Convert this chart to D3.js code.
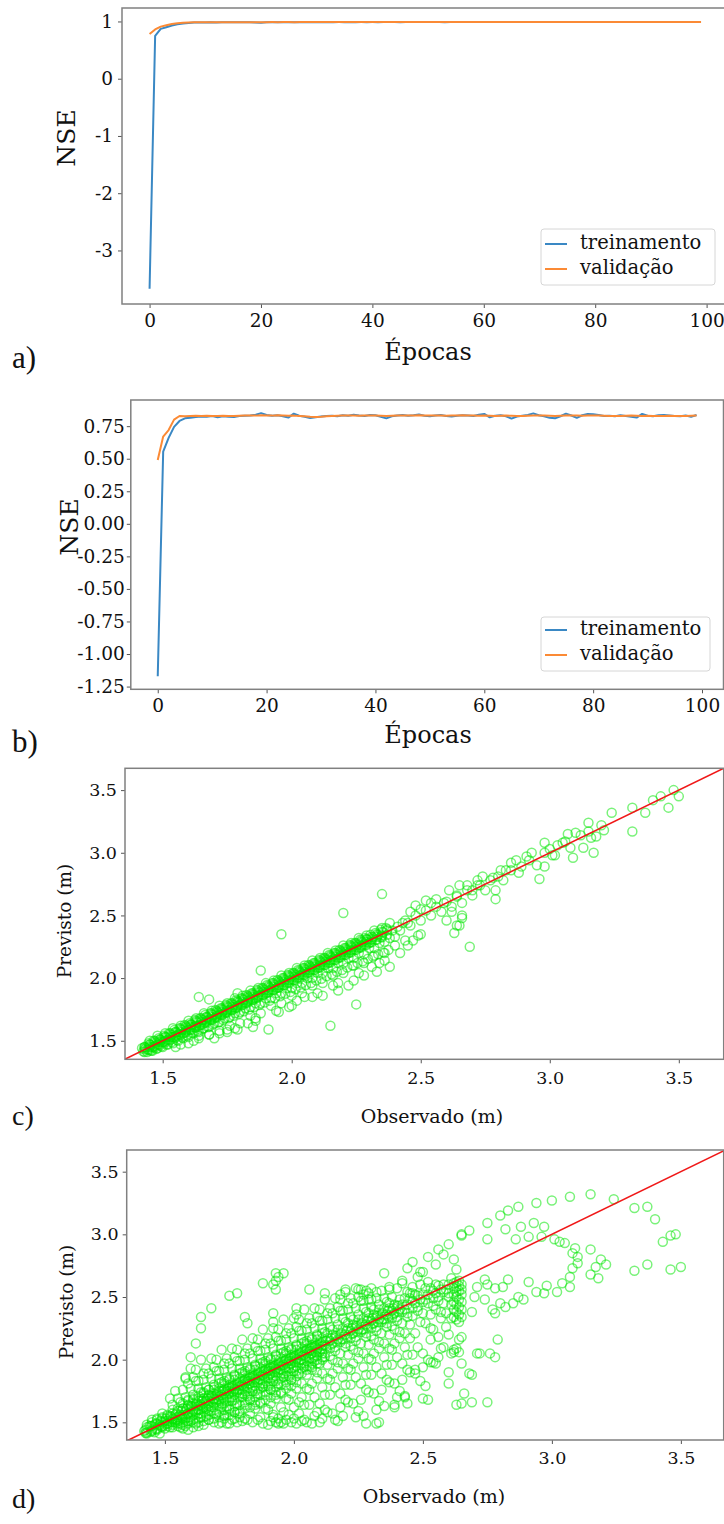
<!DOCTYPE html>
<html>
<head>
<meta charset="utf-8">
<script src="https://cdn.jsdelivr.net/npm/d3@7"></script>
<style>
  body { margin: 0; background: #fff; }
  svg { display: block; }
</style>
</head>
<body>
<svg id="fig" width="724" height="1524"></svg>
<script>
// ---- panel a / b : NSE per epoch ----
const seriesNames = ["treinamento", "validação"];

const nseTrainA = [
  -3.67, 0.75, 0.87, 0.90, 0.93, 0.95, 0.965, 0.975, 0.98, 0.982,
  0.983, 0.984, 0.982, 0.985, 0.984, 0.986, 0.985, 0.986, 0.984, 0.983,
  0.978, 0.984, 0.986, 0.987, 0.985, 0.986, 0.987, 0.986, 0.987, 0.988,
  0.987, 0.988, 0.986, 0.988, 0.989, 0.988, 0.987, 0.988, 0.989, 0.988,
  0.989, 0.988, 0.989, 0.99, 0.989, 0.988, 0.989, 0.99, 0.989, 0.99,
  0.989, 0.99, 0.989, 0.988, 0.99, 0.989, 0.99, 0.99, 0.989, 0.99,
  0.99, 0.989, 0.99, 0.99, 0.989, 0.99, 0.99, 0.99, 0.989, 0.99,
  0.99, 0.99, 0.989, 0.99, 0.99, 0.99, 0.99, 0.989, 0.99, 0.99,
  0.99, 0.99, 0.99, 0.989, 0.99, 0.99, 0.99, 0.99, 0.99, 0.989,
  0.99, 0.99, 0.99, 0.99, 0.99, 0.99, 0.989, 0.99, 0.99, 0.99
];
const nseValidA = [
  0.78, 0.86, 0.91, 0.935, 0.955, 0.97, 0.978, 0.982, 0.984, 0.985,
  0.986, 0.986, 0.987, 0.986, 0.987, 0.987, 0.988, 0.987, 0.988, 0.988,
  0.988, 0.988, 0.989, 0.988, 0.989, 0.989, 0.988, 0.989, 0.989, 0.989,
  0.989, 0.989, 0.99, 0.989, 0.989, 0.99, 0.989, 0.99, 0.99, 0.989,
  0.99, 0.99, 0.989, 0.99, 0.99, 0.99, 0.989, 0.99, 0.99, 0.99,
  0.99, 0.99, 0.99, 0.989, 0.99, 0.99, 0.99, 0.99, 0.99, 0.99,
  0.99, 0.99, 0.99, 0.99, 0.99, 0.99, 0.99, 0.99, 0.99, 0.99,
  0.99, 0.99, 0.99, 0.99, 0.99, 0.99, 0.99, 0.99, 0.99, 0.99,
  0.99, 0.99, 0.99, 0.99, 0.99, 0.99, 0.99, 0.99, 0.99, 0.99,
  0.99, 0.99, 0.99, 0.99, 0.99, 0.99, 0.99, 0.99, 0.99, 0.99
];

const nseTrainB = [
  -1.17, 0.555, 0.66, 0.745, 0.79, 0.81, 0.815, 0.82, 0.825, 0.822,
  0.828, 0.818, 0.826, 0.822, 0.82, 0.828, 0.83, 0.832, 0.838, 0.85,
  0.836, 0.83, 0.834, 0.826, 0.816, 0.846, 0.83, 0.822, 0.812, 0.818,
  0.824, 0.828, 0.83, 0.826, 0.834, 0.83, 0.838, 0.832, 0.828, 0.836,
  0.834, 0.822, 0.81, 0.826, 0.832, 0.836, 0.83, 0.834, 0.84, 0.83,
  0.826, 0.832, 0.836, 0.828, 0.824, 0.83, 0.834, 0.832, 0.828, 0.838,
  0.844, 0.818, 0.83, 0.834, 0.826, 0.808, 0.824, 0.83, 0.836, 0.848,
  0.834, 0.826, 0.814, 0.81, 0.826, 0.846, 0.832, 0.814, 0.834, 0.844,
  0.842, 0.836, 0.828, 0.83, 0.826, 0.834, 0.828, 0.822, 0.816, 0.844,
  0.83, 0.826, 0.834, 0.836, 0.832, 0.828, 0.826, 0.832, 0.822, 0.836
];
const nseValidB = [
  0.49, 0.67, 0.72, 0.80, 0.828, 0.826, 0.828, 0.83, 0.828, 0.83,
  0.829, 0.828, 0.83, 0.829, 0.828, 0.83, 0.831, 0.832, 0.831, 0.833,
  0.832, 0.831, 0.833, 0.832, 0.83, 0.831, 0.829, 0.826, 0.822, 0.82,
  0.822, 0.826, 0.829, 0.83, 0.831, 0.832, 0.831, 0.83, 0.831, 0.832,
  0.831, 0.83, 0.829, 0.83, 0.831, 0.832, 0.831, 0.832, 0.833, 0.832,
  0.831, 0.832, 0.831, 0.83, 0.831, 0.832, 0.833, 0.832, 0.831, 0.83,
  0.831, 0.83, 0.829, 0.83, 0.831, 0.83, 0.828, 0.829, 0.83, 0.831,
  0.832, 0.831, 0.83, 0.829, 0.83, 0.831, 0.832, 0.831, 0.83, 0.831,
  0.832, 0.831, 0.83, 0.829, 0.828, 0.829, 0.83, 0.831, 0.83, 0.829,
  0.83, 0.829, 0.828, 0.829, 0.83, 0.829, 0.828, 0.829, 0.83, 0.831
];

const epochTicks = [0, 20, 40, 60, 80, 100];
const nseTicksA = [-3, -2, -1, 0, 1];
const nseTicksB = [-1.25, -1.0, -0.75, -0.5, -0.25, 0, 0.25, 0.5, 0.75];
const levelTicks = [1.5, 2.0, 2.5, 3.0, 3.5];

// ---- panel c : [observado, previsto] ----
const cBand = [
  [1.42,1.44],[1.43,1.45],[1.44,1.43],[1.45,1.47],[1.46,1.45],[1.47,1.50],[1.48,1.47],[1.49,1.51],[1.50,1.49],[1.51,1.53],
  [1.52,1.51],[1.53,1.56],[1.54,1.53],[1.55,1.57],[1.56,1.55],[1.57,1.60],[1.58,1.56],[1.59,1.62],[1.60,1.59],[1.61,1.63],
  [1.62,1.61],[1.63,1.66],[1.64,1.62],[1.65,1.68],[1.66,1.64],[1.67,1.69],[1.68,1.67],[1.69,1.72],[1.70,1.68],[1.71,1.74],
  [1.72,1.71],[1.73,1.76],[1.74,1.72],[1.75,1.78],[1.76,1.75],[1.77,1.80],[1.78,1.76],[1.79,1.82],[1.80,1.79],[1.81,1.84],
  [1.82,1.80],[1.83,1.86],[1.84,1.83],[1.85,1.88],[1.86,1.84],[1.87,1.90],[1.88,1.87],[1.89,1.92],[1.90,1.88],[1.91,1.94],
  [1.92,1.91],[1.93,1.96],[1.94,1.92],[1.95,1.98],[1.96,1.95],[1.97,2.00],[1.98,1.96],[1.99,2.02],[2.00,1.99],[2.01,2.04],
  [2.02,2.00],[2.03,2.06],[2.04,2.03],[2.05,2.08],[2.06,2.04],[2.07,2.10],[2.08,2.07],[2.09,2.12],[2.10,2.08],[2.11,2.14],
  [2.12,2.11],[2.13,2.16],[2.14,2.12],[2.15,2.18],[2.16,2.15],[2.17,2.20],[2.18,2.16],[2.19,2.22],[2.20,2.19],[2.21,2.24],
  [2.22,2.20],[2.23,2.26],[2.24,2.23],[2.25,2.28],[2.26,2.24],[2.27,2.30],[2.28,2.27],[2.29,2.31],[2.30,2.28]
];
const cBandMid = [
  [1.425,1.415],[1.435,1.445],[1.445,1.43],[1.455,1.465],[1.465,1.45],[1.475,1.485],[1.485,1.47],[1.495,1.505],[1.505,1.49],[1.515,1.525],
  [1.525,1.51],[1.535,1.545],[1.545,1.53],[1.555,1.565],[1.565,1.55],[1.575,1.585],[1.585,1.565],[1.595,1.605],[1.605,1.585],[1.615,1.625],
  [1.625,1.605],[1.635,1.645],[1.645,1.625],[1.655,1.665],[1.665,1.645],[1.675,1.685],[1.685,1.665],[1.695,1.705],[1.705,1.685],[1.715,1.725],
  [1.725,1.705],[1.735,1.745],[1.745,1.725],[1.755,1.765],[1.765,1.745],[1.775,1.785],[1.785,1.765],[1.795,1.805],[1.805,1.785],[1.815,1.825],
  [1.825,1.805],[1.835,1.845],[1.845,1.825],[1.855,1.865],[1.865,1.845],[1.875,1.885],[1.885,1.865],[1.895,1.905],[1.905,1.885],[1.915,1.925],
  [1.925,1.905],[1.935,1.945],[1.945,1.925],[1.955,1.965],[1.965,1.945],[1.975,1.985],[1.985,1.965],[1.995,2.005],[2.005,1.985],[2.015,2.025],
  [2.025,2.005],[2.035,2.045],[2.045,2.025],[2.055,2.065],[2.065,2.045],[2.075,2.085],[2.085,2.065],[2.095,2.105],[2.105,2.085],[2.115,2.125],
  [2.125,2.105],[2.135,2.145],[2.145,2.125],[2.155,2.165],[2.165,2.145],[2.175,2.185],[2.185,2.165],[2.195,2.205],[2.205,2.185],[2.215,2.225],
  [2.225,2.205],[2.235,2.245],[2.245,2.225],[2.255,2.265],[2.265,2.245],[2.275,2.285],[2.285,2.265],[2.295,2.305],[2.305,2.285],[2.315,2.325],
  [2.325,2.305],[2.335,2.345],[2.345,2.325],[2.355,2.365]
];
const cCoreCols = [
  [1.43,[1.41,1.45]],[1.45,[1.425,1.47]],[1.47,[1.445,1.49]],[1.49,[1.465,1.51]],[1.51,[1.485,1.53]],
  [1.53,[1.505,1.55]],[1.55,[1.525,1.57]],[1.57,[1.545,1.59]],[1.59,[1.565,1.61]],[1.61,[1.585,1.63]],
  [1.63,[1.605,1.65]],[1.65,[1.625,1.67]],[1.67,[1.645,1.69]],[1.69,[1.665,1.71]],[1.71,[1.685,1.73]],
  [1.73,[1.705,1.75]],[1.75,[1.725,1.77]],[1.77,[1.745,1.79]],[1.79,[1.765,1.81]],[1.81,[1.785,1.83]],
  [1.83,[1.805,1.85]],[1.85,[1.825,1.87]],[1.87,[1.845,1.89]],[1.89,[1.865,1.91]],[1.91,[1.885,1.93]],
  [1.93,[1.905,1.95]],[1.95,[1.925,1.97]],[1.97,[1.945,1.99]],[1.99,[1.965,2.01]],[2.01,[1.985,2.03]],
  [2.03,[2.005,2.05]],[2.05,[2.025,2.07]],[2.07,[2.045,2.09]],[2.09,[2.065,2.11]],[2.11,[2.085,2.13]],
  [2.13,[2.105,2.15]],[2.15,[2.125,2.17]],[2.17,[2.145,2.19]],[2.19,[2.165,2.21]],[2.21,[2.185,2.23]],
  [2.23,[2.205,2.25]],[2.25,[2.225,2.27]],[2.27,[2.245,2.29]],[2.29,[2.265,2.31]],[2.31,[2.285,2.33]],
  [2.33,[2.305,2.35]],[2.35,[2.325,2.37]],[2.37,[2.345,2.39]]
];
const cBandUnder = [
  [1.455,1.42],[1.475,1.435],[1.495,1.455],[1.515,1.47],[1.535,1.49],[1.555,1.505],[1.575,1.525],[1.595,1.54],[1.615,1.56],[1.635,1.575],
  [1.655,1.595],[1.675,1.61],[1.695,1.63],[1.715,1.645],[1.735,1.665],[1.755,1.68],[1.775,1.70],[1.795,1.715],[1.815,1.735],[1.835,1.75],
  [1.855,1.77],[1.875,1.785],[1.895,1.805],[1.915,1.82],[1.935,1.84],[1.955,1.855],[1.975,1.875],[1.995,1.89],[2.015,1.91],[2.035,1.925],
  [2.055,1.945],[2.075,1.96],[2.095,1.98],[2.115,1.995],[2.135,2.015],[2.155,2.03],[2.175,2.05],[2.195,2.065],[2.215,2.085],[2.235,2.10],
  [2.255,2.12],[2.275,2.135],[2.295,2.155],[2.315,2.17],[2.335,2.19],[2.355,2.205],[2.375,2.225]
];
const cBandOver = [
  [1.445,1.48],[1.465,1.50],[1.485,1.52],[1.505,1.54],[1.525,1.56],[1.545,1.585],[1.565,1.60],[1.585,1.625],[1.605,1.64],[1.625,1.665],
  [1.645,1.68],[1.665,1.705],[1.685,1.72],[1.705,1.745],[1.725,1.76],[1.745,1.785],[1.765,1.80],[1.785,1.825],[1.805,1.84],[1.825,1.865],
  [1.845,1.88],[1.865,1.905],[1.885,1.92],[1.905,1.945],[1.925,1.96],[1.945,1.985],[1.965,2.00],[1.985,2.025],[2.005,2.04],[2.025,2.065],
  [2.045,2.08],[2.065,2.105],[2.085,2.12],[2.105,2.145],[2.125,2.16],[2.145,2.185],[2.165,2.20],[2.185,2.225],[2.205,2.24],[2.225,2.265],
  [2.245,2.28],[2.265,2.305],[2.285,2.32],[2.305,2.345],[2.325,2.36],[2.345,2.385],[2.365,2.40]
];
const cLine = [
  [1.43,1.43],[1.45,1.45],[1.47,1.46],[1.49,1.49],[1.51,1.50],[1.53,1.53],[1.55,1.54],[1.57,1.57],[1.59,1.58],[1.61,1.61],
  [1.63,1.62],[1.65,1.65],[1.67,1.66],[1.69,1.69],[1.71,1.70],[1.73,1.73],[1.75,1.74],[1.77,1.77],[1.79,1.78],[1.81,1.81],
  [1.83,1.82],[1.85,1.85],[1.87,1.86],[1.89,1.89],[1.91,1.90],[1.93,1.93],[1.95,1.94],[1.97,1.97],[1.99,1.98],[2.01,2.01],
  [2.03,2.02],[2.05,2.05],[2.07,2.06],[2.09,2.09],[2.11,2.10],[2.13,2.13],[2.15,2.14],[2.17,2.17],[2.19,2.18],[2.21,2.21],
  [2.23,2.22],[2.25,2.25],[2.27,2.26],[2.29,2.29],[2.31,2.31],[2.33,2.33],[2.35,2.34],[2.37,2.38],[2.39,2.38],[2.41,2.41],
  [2.43,2.44],[2.45,2.44]
];
const cLow = [
  [1.44,1.41],[1.46,1.42],[1.48,1.44],[1.50,1.45],[1.52,1.47],[1.54,1.48],[1.56,1.50],[1.58,1.52],[1.60,1.53],[1.62,1.56],
  [1.64,1.57],[1.66,1.60],[1.68,1.61],[1.70,1.64],[1.72,1.65],[1.74,1.68],[1.76,1.69],[1.78,1.72],[1.80,1.73],[1.82,1.76],
  [1.84,1.77],[1.86,1.80],[1.88,1.80],[1.90,1.84],[1.92,1.84],[1.94,1.88],[1.96,1.88],[1.98,1.92],[2.00,1.92],[2.02,1.96],
  [2.04,1.96],[2.06,2.00],[2.08,2.00],[2.10,2.04],[2.12,2.04],[2.14,2.08],[2.16,2.08],[2.18,2.12],[2.20,2.12],[2.22,2.16],
  [2.24,2.16],[2.26,2.20],[2.28,2.19],[2.30,2.24],[2.32,2.24],[2.34,2.28],[2.36,2.29],[2.38,2.32],[2.40,2.33]
];
const cHigh = [
  [1.45,1.50],[1.48,1.54],[1.51,1.56],[1.54,1.60],[1.57,1.62],[1.60,1.66],[1.63,1.68],[1.66,1.72],[1.69,1.74],[1.72,1.78],
  [1.75,1.80],[1.78,1.84],[1.81,1.86],[1.84,1.90],[1.87,1.92],[1.90,1.96],[1.93,1.98],[1.96,2.02],[1.99,2.04],[2.02,2.08],
  [2.05,2.10],[2.08,2.14],[2.11,2.16],[2.14,2.20],[2.17,2.22],[2.20,2.26],[2.23,2.28],[2.26,2.32],[2.29,2.34],[2.32,2.38],
  [2.35,2.40],[2.38,2.44]
];
const cSpread = [
  [1.55,1.45],[1.60,1.48],[1.64,1.52],[1.68,1.55],[1.72,1.58],[1.76,1.62],[1.80,1.64],[1.84,1.70],[1.88,1.72],[1.92,1.78],
  [1.96,1.80],[2.00,1.86],[2.04,1.88],[2.08,1.94],[2.12,1.96],[2.16,2.02],[2.20,2.04],[2.24,2.10],[2.28,2.12],[2.32,2.18],
  [2.36,2.20],[2.40,2.26],[2.44,2.30],[1.70,1.52],[1.78,1.60],[1.86,1.66],[1.94,1.74],[2.02,1.82],[2.10,1.88],[2.18,1.96],
  [2.26,2.04],[2.34,2.12],
  [1.57,1.47],[1.64,1.54],[1.75,1.59],[1.79,1.59],[1.83,1.64],[1.62,1.50],[1.68,1.55],[1.72,1.56],[1.86,1.68],[1.95,1.73],
  [2.00,1.78],[2.08,1.85],[2.12,1.86],[2.18,1.90],[2.24,1.98],[2.28,2.02],[2.33,2.05],[2.36,2.14],[2.42,2.20],[2.45,2.26]
];
const cUpper = [
  [2.42,2.38],[2.44,2.46],[2.46,2.42],[2.48,2.50],[2.50,2.46],[2.52,2.54],[2.54,2.50],[2.56,2.57],[2.58,2.53],[2.60,2.61],
  [2.62,2.57],[2.64,2.66],[2.66,2.60],[2.68,2.70],[2.70,2.66],[2.72,2.74],[2.75,2.70],[2.78,2.80],[2.82,2.78],[2.85,2.86],
  [2.88,2.84],[2.92,2.94],[2.95,2.90],[2.98,3.00],[3.02,2.98],[3.05,3.08],[3.08,3.04],[3.12,3.14],[3.16,3.12],
  [2.69,2.25],[2.63,2.36],[2.66,2.50],[2.79,2.63],[2.96,2.79],[3.09,2.96],[3.17,3.00],[3.32,3.17],[3.46,3.36],[3.50,3.45],
  [3.48,3.50],[3.43,3.45],[3.40,3.42],[3.37,3.32],[3.32,3.36],[3.24,3.32],[3.21,3.18],[3.20,3.22],[3.15,3.24],[3.15,3.17],
  [3.18,3.13],[3.13,3.04],[3.10,3.16],[3.07,3.15],[3.06,3.09],[3.03,3.06],[3.00,3.03],[2.98,3.08],[3.01,2.98],[2.98,2.89],
  [2.93,3.00],[2.91,2.97],[2.89,2.89],[2.87,2.94],[2.85,2.92],[2.83,2.86],[2.81,2.86],[2.80,2.81],[2.77,2.78],[2.74,2.81],
  [2.73,2.74],[2.72,2.78],[2.70,2.70],[2.79,2.70],[2.68,2.74],[2.65,2.74],[2.64,2.65],[2.61,2.70],[2.59,2.60],[2.56,2.63],
  [2.54,2.60],[2.52,2.62],[2.50,2.55],[2.48,2.58],[2.46,2.53],[2.47,2.30],[2.49,2.34],[2.60,2.46],[2.64,2.42],[2.66,2.48],
  [2.50,2.35],[2.65,2.42],[2.62,2.53]
];
const cOutliers = [
  [2.35,2.67],[2.20,2.52],[1.96,2.35],[1.88,2.06],[1.64,1.85],[1.91,1.59],[2.15,1.62],[2.25,1.79],[2.38,2.09],[2.31,2.09],
  [2.22,1.94],[2.16,1.94],[2.05,1.85],[1.99,1.77],[1.85,1.61],[1.75,1.57],[1.79,1.88],[1.68,1.83]
];

// ---- panel d : observado with its previsto values ----
const dColumns = [
  [1.42,[1.43]],[1.43,[1.41,1.48]],[1.44,[1.47]],[1.45,[1.44,1.52]],[1.46,[1.48,1.42]],[1.47,[1.44,1.53]],
  [1.48,[1.48,1.41]],[1.49,[1.53,1.57]],[1.50,[1.51,1.45]],[1.51,[1.49,1.56]],[1.52,[1.55,1.46,1.69]],
  [1.53,[1.52,1.60,1.64]],[1.54,[1.56,1.50,1.75]],[1.55,[1.52,1.61,1.69]],[1.56,[1.56,1.49,1.66,1.46]],
  [1.57,[1.61,1.65,1.76,1.45]],[1.58,[1.59,1.53,1.70,1.85,1.47]],[1.59,[1.57,1.64,1.68,1.81,1.44]],
  [1.60,[1.63,1.54,1.77,1.93,1.51]],[1.61,[1.60,1.68,1.72,1.86,1.46]],[1.62,[1.64,1.58,1.83,1.92,1.49]],
  [1.63,[1.60,1.69,1.77,1.83,1.47]],[1.64,[1.64,1.57,1.74,2.00,1.54]],[1.65,[1.69,1.73,1.84,1.89,1.48]],
  [1.66,[1.67,1.61,1.78,1.93,1.55]],[1.67,[1.65,1.72,1.76,1.89,1.52]],[1.68,[1.71,1.62,1.85,2.01,1.59]],
  [1.69,[1.68,1.76,1.80,1.94,1.50]],[1.70,[1.72,1.66,1.91,2.00,1.57]],[1.71,[1.68,1.77,1.85,1.91,1.49]],
  [1.72,[1.72,1.65,1.82,2.08,1.62,1.50]],[1.73,[1.77,1.81,1.92,1.97,1.56,1.53]],[1.74,[1.75,1.69,1.86,2.01,1.63,1.49]],
  [1.75,[1.73,1.80,1.84,1.97,1.60,1.49]],[1.76,[1.79,1.70,1.93,2.09,1.67,1.52]],[1.77,[1.76,1.84,1.88,2.02,1.58,1.53]],
  [1.78,[1.80,1.74,1.99,2.08,1.65,1.50]],[1.79,[1.76,1.85,1.93,1.99,1.57,1.54]],[1.80,[1.80,1.73,1.90,2.16,1.70,1.51]],
  [1.81,[1.85,1.89,2.00,2.05,1.64,1.53]],[1.82,[1.83,1.77,1.94,2.09,1.71,1.52]],[1.83,[1.81,1.88,1.92,2.05,1.68,1.57]],
  [1.84,[1.87,1.78,2.01,2.17,1.75,1.50]],[1.85,[1.84,1.92,1.96,2.10,1.66,1.61]],[1.86,[1.88,1.82,2.07,2.16,1.73,1.52]],
  [1.87,[1.84,1.93,2.01,2.07,1.65,1.54]],[1.88,[1.88,1.81,1.98,2.24,1.78,1.49]],[1.89,[1.93,1.97,2.08,2.13,1.72,1.61]],
  [1.90,[1.91,1.85,2.02,2.17,1.79,1.60,1.48]],[1.91,[1.89,1.96,2.00,2.13,1.76,1.65,1.51]],
  [1.92,[1.95,1.86,2.09,2.25,1.83,1.54,1.56]],[1.93,[1.92,2.00,2.04,2.18,1.74,1.69,1.50]],
  [1.94,[1.96,1.90,2.15,2.24,1.81,1.49,1.53]],[1.95,[1.92,2.01,2.09,2.15,1.73,1.62,1.50]],
  [1.96,[1.96,1.89,2.06,2.32,1.86,1.58,1.49]],[1.97,[2.01,2.05,2.16,2.21,1.80,1.69,1.52]],
  [1.98,[1.99,1.93,2.10,2.25,1.87,1.68,1.56]],[1.99,[1.97,2.04,2.08,2.21,1.84,1.73,1.50]],
  [2.00,[2.03,1.94,2.17,2.33,1.91,1.62,1.53]],[2.01,[2.00,2.08,2.12,2.26,1.82,1.77,1.49]],
  [2.02,[2.04,1.98,2.23,2.32,1.89,1.57,1.66]],[2.03,[2.00,2.09,2.17,2.23,1.81,1.70,1.51]],
  [2.04,[2.04,1.97,2.14,2.40,1.94,1.52,1.64]],[2.05,[2.09,2.13,2.24,2.29,1.88,1.77,1.50]],
  [2.06,[2.07,2.01,2.18,2.33,1.95,1.76,1.64]],[2.07,[2.05,2.12,2.16,2.29,1.92,1.81,1.49]],
  [2.08,[2.11,2.02,2.25,2.41,1.99,1.70,1.55]],[2.09,[2.08,2.16,2.20,2.34,1.90,1.85,1.58]],
  [2.10,[2.12,2.06,2.31,2.40,1.97,1.65,1.50]],[2.11,[2.08,2.17,2.25,2.31,1.89,1.78,1.53]],
  [2.12,[2.12,2.05,2.22,2.48,2.02,1.60,1.72]],[2.13,[2.17,2.21,2.32,2.37,1.96,1.85,1.58]],
  [2.14,[2.15,2.09,2.26,2.41,2.03,1.84,1.72]],[2.15,[2.13,2.20,2.24,2.37,2.00,1.89,1.57]],
  [2.16,[2.19,2.10,2.33,2.49,2.07,1.78,1.52]],[2.17,[2.16,2.24,2.28,2.42,1.98,1.93,1.51]],
  [2.18,[2.20,2.14,2.39,2.48,2.05,1.73,1.62]],[2.19,[2.16,2.25,2.33,2.39,1.97,1.86,1.55]],
  [2.20,[2.20,2.13,2.30,2.56,2.10,1.68,1.80]],[2.21,[2.25,2.29,2.40,2.45,2.04,1.93,1.66]],
  [2.22,[2.23,2.17,2.34,2.49,2.11,1.92,1.80]],[2.23,[2.21,2.28,2.32,2.45,2.08,1.97,1.65]],
  [2.24,[2.27,2.18,2.41,2.57,2.15,1.86,1.54]],[2.25,[2.24,2.32,2.36,2.50,2.06,2.01,1.59]],
  [2.26,[2.28,2.22,2.47,2.56,2.13,1.81,1.68]],[2.27,[2.24,2.33,2.41,2.47,2.05,1.94,1.55]],
  [2.28,[2.28,2.21,2.38,2.55,2.18,1.76,1.88]],[2.29,[2.33,2.37,2.48,2.53,2.12,2.01,1.74]],
  [2.30,[2.31,2.25,2.42,2.57,2.19,2.00,1.88]],[2.31,[2.29,2.36,2.40,2.16,2.05,1.73]],
  [2.32,[2.35,2.26,2.49,2.23,1.94,1.60]],[2.33,[2.32,2.40,2.44,2.14,2.09,1.67]],
  [2.34,[2.36,2.30,2.55,2.21,1.89,1.76]],[2.35,[2.32,2.41,2.49,2.13,2.02,1.63]],
  [2.36,[2.36,2.29,2.46,2.26,1.84,1.96]],[2.37,[2.41,2.45,2.56,2.20,2.09,1.82]],
  [2.38,[2.39,2.33,2.50,2.27,2.08,1.96]],[2.39,[2.37,2.44,2.24,2.13,1.81]],
  [2.40,[2.43,2.34,2.57,2.31,2.02,1.70]],[2.41,[2.40,2.48,2.22,2.17,1.75]],
  [2.42,[2.44,2.38,2.63,2.29,1.97,1.84]],[2.43,[2.40,2.49,2.21,2.10,1.71]],
  [2.44,[2.44,2.37,2.54,2.34,1.92,2.04]],[2.45,[2.49,2.53,2.28,2.17,1.90]],
  [2.46,[2.47,2.41,2.58,2.35,2.04]],[2.47,[2.45,2.52,2.21,1.89]],[2.48,[2.51,2.42,2.39,2.10]],
  [2.49,[2.48,2.60,2.30,1.83]],[2.50,[2.52,2.46,2.37,2.05]],[2.51,[2.48,2.57,2.29,1.79]],
  [2.52,[2.52,2.45,2.62,2.00]],[2.53,[2.57,2.36,2.25,1.98]],[2.54,[2.55,2.49,2.43,2.24]],
  [2.55,[2.53,2.60,2.40,1.97]],[2.56,[2.59,2.50,2.18,2.47]],[2.57,[2.56,2.38,2.33]],
  [2.58,[2.60,2.54,2.45,2.10]],[2.59,[2.56,2.37,2.26]],[2.60,[2.60,2.53,2.50,2.20]],[2.61,[2.65,2.44,2.33]],
  [2.62,[2.61,2.57,2.52,2.46,2.40,2.34,2.08]],[2.63,[2.62,2.58,2.54,2.50,2.44,2.38,2.32]],
  [2.64,[2.63,2.59,2.55,2.48,2.42,2.36,2.30,2.06]],[2.65,[2.60,2.56,2.52,2.46,2.40,2.34]]
];
const dColumnsMid = [
  [1.425,[1.415,1.44]],[1.445,[1.425,1.47]],[1.465,[1.445,1.49]],[1.485,[1.465,1.51]],[1.505,[1.485,1.53]],
  [1.525,[1.505,1.545]],[1.545,[1.52,1.57]],[1.565,[1.545,1.59]],[1.585,[1.565,1.61]],[1.605,[1.58,1.63]],
  [1.625,[1.605,1.65]],[1.645,[1.625,1.67]],[1.665,[1.64,1.69]],[1.685,[1.665,1.71]],[1.705,[1.685,1.73]],
  [1.725,[1.70,1.75]],[1.745,[1.725,1.77]],[1.765,[1.745,1.79]],[1.785,[1.76,1.81]],[1.805,[1.785,1.83]],
  [1.825,[1.805,1.85]],[1.845,[1.82,1.87]],[1.865,[1.845,1.89]],[1.885,[1.865,1.91]],[1.905,[1.88,1.93]],
  [1.925,[1.905,1.95]],[1.945,[1.925,1.97]],[1.965,[1.94,1.99]],[1.985,[1.965,2.01]],[2.005,[1.985,2.03]],
  [2.025,[2.0,2.05]],[2.045,[2.025,2.07]],[2.065,[2.045,2.09]],[2.085,[2.06,2.11]],[2.105,[2.085,2.13]],
  [2.125,[2.105,2.15]],[2.145,[2.12,2.17]],[2.165,[2.145,2.19]],[2.185,[2.165,2.21]],[2.205,[2.18,2.23]],
  [2.225,[2.205,2.25]],[2.245,[2.225,2.27]],[2.265,[2.24,2.29]],[2.285,[2.265,2.31]],[2.305,[2.285,2.33]],
  [2.325,[2.30,2.35]],[2.345,[2.325,2.37]],[2.365,[2.345,2.39]],[2.385,[2.36,2.41]],[2.405,[2.385,2.43]]
];
const dCoreCols = [
  [1.43,[1.42,1.46]],[1.45,[1.43,1.47,1.50]],[1.47,[1.45,1.49,1.52]],[1.49,[1.46,1.50,1.54,1.47]],
  [1.51,[1.47,1.51,1.55,1.49]],[1.53,[1.48,1.53,1.57,1.50,1.46]],[1.55,[1.49,1.54,1.59,1.51,1.47]],
  [1.57,[1.50,1.56,1.61,1.53,1.48]],[1.59,[1.51,1.57,1.63,1.54,1.49,1.67]],[1.61,[1.52,1.59,1.65,1.56,1.50,1.69]],
  [1.63,[1.53,1.60,1.67,1.57,1.50,1.71,1.63]],[1.65,[1.54,1.62,1.69,1.59,1.51,1.74,1.65]],
  [1.67,[1.56,1.63,1.71,1.60,1.52,1.76,1.67]],[1.69,[1.57,1.65,1.73,1.62,1.53,1.78,1.69]],
  [1.71,[1.58,1.67,1.75,1.63,1.54,1.81,1.71]],[1.73,[1.60,1.68,1.76,1.65,1.55,1.83,1.73]],
  [1.75,[1.61,1.70,1.78,1.67,1.56,1.85,1.75]],[1.77,[1.63,1.72,1.80,1.68,1.58,1.87,1.77]],
  [1.79,[1.64,1.73,1.82,1.70,1.59,1.89,1.79]],[1.81,[1.66,1.75,1.84,1.72,1.61,1.91,1.81]],
  [1.83,[1.68,1.77,1.86,1.73,1.62,1.93,1.83]],[1.85,[1.70,1.79,1.88,1.75,1.64,1.95,1.85]],
  [1.87,[1.72,1.81,1.90,1.77,1.66,1.97,1.87]],[1.89,[1.74,1.83,1.92,1.79,1.68,1.99,1.89]],
  [1.91,[1.76,1.85,1.94,1.81,1.70,2.01,1.91]],[1.93,[1.78,1.87,1.96,1.83,1.72,2.03,1.93]],
  [1.95,[1.80,1.89,1.98,1.85,1.74,2.05,1.95]],[1.97,[1.82,1.91,2.00,1.87,1.77,2.07,1.97]],
  [1.99,[1.84,1.93,2.02,1.89,1.79,2.09,1.99]],[2.01,[1.87,1.95,2.04,1.91,2.11,2.01]],
  [2.03,[1.89,1.97,2.06,1.93,2.13,2.03]],[2.05,[1.92,1.99,2.08,1.95,2.15,2.05]],
  [2.07,[1.94,2.01,2.10,1.97,2.17,2.07]],[2.09,[1.97,2.03,2.12,2.00,2.19,2.09]],
  [2.11,[2.00,2.05,2.14,2.02,2.21,2.11]]
];
const dUpper = [
  [1.93,2.69],[1.94,2.66],[1.93,2.63],[1.92,2.60],[1.93,2.56],[1.88,2.61],[1.75,2.51],[1.78,2.53],[1.68,2.41],[1.64,2.34],
  [1.64,2.25],[1.62,2.13],[1.60,2.02],[1.58,1.86],[2.06,2.56],[1.96,2.69],[1.81,2.34],[1.82,2.29],[1.92,2.37],[1.92,2.30],
  [2.01,2.41],[2.01,2.36],[2.12,2.53],[2.18,2.52],[2.20,2.54],[2.25,2.56],[2.27,2.52],[2.30,2.48],[2.32,2.54],[2.37,2.58],
  [2.42,2.61],[2.46,2.53],[2.44,2.73],[2.35,2.69],[2.49,2.70],[2.46,2.78],[2.50,2.70],[2.52,2.82],[2.55,2.76],[2.58,2.84],
  [2.60,2.92],[2.62,2.80],[2.65,2.99],[2.48,2.66],[2.56,2.88],[2.63,2.72]
];
const dRight = [
  [3.15,3.32],[3.07,3.30],[3.00,3.27],[2.94,3.25],[2.87,3.22],[2.83,3.19],[2.80,3.15],[2.75,3.09],[2.68,3.03],[2.65,3.00],
  [3.24,3.28],[3.32,3.21],[3.37,3.22],[3.40,3.12],[3.43,2.94],[3.46,2.99],[3.48,3.00],[3.32,2.71],[3.37,2.76],[3.46,2.72],
  [3.50,2.74],[3.03,2.94],[3.05,2.93],[3.01,2.96],[2.96,2.98],[2.93,3.09],[2.97,3.06],[2.91,2.98],[2.88,3.06],[2.86,2.96],
  [2.82,3.04],[2.75,2.96],[3.09,2.89],[3.08,2.85],[3.10,2.82],[3.10,2.77],[3.08,2.73],[3.07,2.66],[3.07,2.58],[3.15,2.88],
  [3.17,2.74],[3.19,2.80],[3.21,2.76],[3.15,2.68],[3.18,2.65],[2.98,2.59],[2.94,2.54],[2.97,2.53],[3.02,2.54],[3.04,2.61],
  [2.91,2.62],[2.89,2.48],[2.87,2.50],[2.85,2.45],[2.82,2.42],[2.80,2.45],[2.78,2.37],[2.74,2.48],[2.77,2.40],[2.83,2.64],
  [2.81,2.58],[2.78,2.57],[2.75,2.60],[2.74,2.64],[2.71,2.58],[2.70,2.50],[2.79,2.16],[2.78,2.02],[2.76,2.05],[2.72,2.05],
  [2.71,2.05],[2.69,2.38],[2.63,2.09],[2.62,2.06],[2.65,2.18],[2.69,1.88],[2.68,1.89],[2.65,1.97],[2.60,1.90],[2.60,1.81],
  [2.66,1.73],[2.63,1.64],[2.65,1.65],[2.69,1.66],[2.75,1.66],[2.52,1.68],[2.50,1.69],[2.43,1.70],[2.44,1.65],[2.39,1.62],
  [2.39,1.64],[2.33,1.50],[2.28,1.49],[2.32,1.49],[2.54,1.98],[2.50,1.94],[2.47,1.92],[2.56,2.02],[2.53,2.16],[2.57,2.09],
  [2.61,2.05],[2.64,2.16]
];

// ---- drawing ----
const svg = d3.select("#fig");
const SERIF = "DejaVu Serif";
const LETTER = "Liberation Serif";
const BLUE = "#3a88c4";
const ORANGE = "#fb8a35";
const FRAME = "#808080";
const minus = s => s.replace("\u2212", "-");
const unfold = cols => cols.flatMap(([o, ps]) => ps.map(p => [o, p]));

function styleAxis(sel, size) {
  sel.select(".domain").remove();
  sel.selectAll(".tick line").attr("stroke", "#555").attr("stroke-width", 1);
  sel.selectAll(".tick text")
    .attr("font-family", SERIF)
    .attr("font-size", size)
    .attr("fill", "#111");
}

function panelLetter(label, y, size) {
  svg.append("text")
    .attr("x", 12).attr("y", y)
    .attr("font-family", LETTER)
    .attr("font-size", size)
    .attr("fill", "#111")
    .text(label);
}

function drawNSE(cfg) {
  const x = d3.scaleLinear().domain([-4.95, 103.95]).range([cfg.left, cfg.right]);
  const y = d3.scaleLinear().domain(cfg.yDomain).range([cfg.bottom, cfg.top]);
  const g = svg.append("g");

  const line = d3.line().x((d, i) => x(i)).y(d => y(d));
  [[cfg.train, BLUE], [cfg.valid, ORANGE]].forEach(([vals, col]) => {
    g.append("path")
      .datum(vals)
      .attr("d", line)
      .attr("fill", "none")
      .attr("stroke", col)
      .attr("stroke-width", 2)
      .attr("stroke-linejoin", "round");
  });

  const xa = g.append("g").attr("transform", `translate(0,${cfg.bottom})`)
    .call(d3.axisBottom(x).tickValues(epochTicks).tickFormat(d3.format("d")).tickSize(4).tickPadding(cfg.xPad));
  styleAxis(xa, 18.5);

  const ya = g.append("g").attr("transform", `translate(${cfg.left},0)`)
    .call(d3.axisLeft(y).tickValues(cfg.yTicks).tickFormat(d => minus(cfg.yFormat(d))).tickSize(4).tickPadding(cfg.yPad));
  styleAxis(ya, 18.5);

  g.append("rect")
    .attr("x", cfg.left).attr("y", cfg.top)
    .attr("width", cfg.right - cfg.left).attr("height", cfg.bottom - cfg.top)
    .attr("fill", "none").attr("stroke", FRAME).attr("stroke-width", 1.5);

  // legend
  const lg = g.append("g");
  lg.append("rect")
    .attr("x", cfg.legend.x).attr("y", cfg.legend.y)
    .attr("width", cfg.legend.w).attr("height", cfg.legend.h)
    .attr("rx", 3)
    .attr("fill", "#fff").attr("stroke", "#d6d6d6").attr("stroke-width", 1);
  seriesNames.forEach((name, i) => {
    const ly = cfg.legend.rows[i];
    lg.append("line")
      .attr("x1", cfg.legend.x + 4).attr("x2", cfg.legend.x + 26)
      .attr("y1", ly).attr("y2", ly)
      .attr("stroke", i === 0 ? BLUE : ORANGE).attr("stroke-width", 2);
    lg.append("text")
      .attr("x", cfg.legend.x + 39).attr("y", ly + 5)
      .attr("font-family", SERIF).attr("font-size", 19.5).attr("fill", "#111")
      .text(name);
  });

  g.append("text")
    .attr("x", 428).attr("y", cfg.xLabelY)
    .attr("text-anchor", "middle")
    .attr("font-family", SERIF).attr("font-size", 24).attr("fill", "#111")
    .text("Épocas");

  g.append("text")
    .attr("transform", `translate(${cfg.yLabelX},${cfg.yLabelC}) rotate(-90)`)
    .attr("text-anchor", "middle")
    .attr("font-family", SERIF).attr("font-size", 25).attr("fill", "#111")
    .text("NSE");
}

function drawScatter(cfg) {
  const x = d3.scaleLinear().domain(cfg.xDomain).range([cfg.left, cfg.right]);
  const y = d3.scaleLinear().domain(cfg.yDomain).range([cfg.bottom, cfg.top]);
  const g = svg.append("g");

  g.append("clipPath").attr("id", cfg.id)
    .append("rect")
    .attr("x", cfg.left).attr("y", cfg.top)
    .attr("width", cfg.right - cfg.left).attr("height", cfg.bottom - cfg.top);
  const plot = g.append("g").attr("clip-path", `url(#${cfg.id})`);

  plot.selectAll("circle")
    .data(cfg.points)
    .join("circle")
    .attr("cx", d => x(d[0]))
    .attr("cy", d => y(d[1]))
    .attr("r", 4.5)
    .attr("fill", "none")
    .attr("stroke", "#00e600")
    .attr("stroke-opacity", 0.52)
    .attr("stroke-width", 1.5);

  const lo = Math.min(cfg.xDomain[0], cfg.yDomain[0]);
  const hi = Math.max(cfg.xDomain[1], cfg.yDomain[1]);
  plot.append("line")
    .attr("x1", x(lo)).attr("y1", y(lo))
    .attr("x2", x(hi)).attr("y2", y(hi))
    .attr("stroke", "#f01818").attr("stroke-width", 1.6);

  const xa = g.append("g").attr("transform", `translate(0,${cfg.bottom})`)
    .call(d3.axisBottom(x).tickValues(levelTicks).tickFormat(d3.format(".1f")).tickSize(4).tickPadding(8));
  styleAxis(xa, 17.5);
  const ya = g.append("g").attr("transform", `translate(${cfg.left},0)`)
    .call(d3.axisLeft(y).tickValues(levelTicks).tickFormat(d3.format(".1f")).tickSize(4).tickPadding(4));
  styleAxis(ya, 17.5);

  g.append("rect")
    .attr("x", cfg.left).attr("y", cfg.top)
    .attr("width", cfg.right - cfg.left).attr("height", cfg.bottom - cfg.top)
    .attr("fill", "none").attr("stroke", FRAME).attr("stroke-width", 1.5);

  g.append("text")
    .attr("x", cfg.xLabelC).attr("y", cfg.xLabelY)
    .attr("text-anchor", "middle")
    .attr("font-family", SERIF).attr("font-size", 19).attr("fill", "#111")
    .text("Observado (m)");
  g.append("text")
    .attr("transform", `translate(${cfg.yLabelX},${cfg.yLabelC}) rotate(-90)`)
    .attr("text-anchor", "middle")
    .attr("font-family", SERIF).attr("font-size", 18.5).attr("fill", "#111")
    .text("Previsto (m)");
}

drawNSE({
  left: 122, right: 728.6, top: 8, bottom: 304,
  yDomain: [-3.935, 1.235], yTicks: nseTicksA, yFormat: d3.format("d"),
  train: nseTrainA, valid: nseValidA,
  xPad: 6, yPad: 5,
  legend: { x: 541, y: 229, w: 174, h: 56, rows: [244, 269] },
  xLabelY: 360, yLabelX: 75, yLabelC: 138
});
panelLetter("a)", 368, 31);

drawNSE({
  left: 130.8, right: 723.5, top: 400, bottom: 689.3,
  yDomain: [-1.271, 0.951], yTicks: nseTicksB, yFormat: d3.format(".2f"),
  train: nseTrainB, valid: nseValidB,
  xPad: 6, yPad: 2,
  legend: { x: 541, y: 617, w: 169, h: 54, rows: [630, 655] },
  xLabelY: 743, yLabelX: 78, yLabelC: 527
});
panelLetter("b)", 752, 31);

drawScatter({
  id: "clip-c",
  left: 125, right: 723.7, top: 768.3, bottom: 1059.3,
  xDomain: [1.354, 3.674], yDomain: [1.352, 3.674],
  points: [].concat(cSpread, cHigh, cLow, cBandUnder, cBandOver, cLine, cBand, cBandMid, unfold(cCoreCols), cUpper, cOutliers),
  xLabelC: 432, xLabelY: 1123, yLabelX: 71, yLabelC: 921
});
panelLetter("c)", 1125, 28);

drawScatter({
  id: "clip-d",
  left: 126.7, right: 723.7, top: 1150, bottom: 1440,
  xDomain: [1.352, 3.666], yDomain: [1.359, 3.673],
  points: [].concat(unfold(dColumns), unfold(dColumnsMid), unfold(dCoreCols), dUpper, dRight),
  xLabelC: 434, xLabelY: 1503, yLabelX: 72.5, yLabelC: 1302
});
panelLetter("d)", 1508, 28);
</script>
</body>
</html>
